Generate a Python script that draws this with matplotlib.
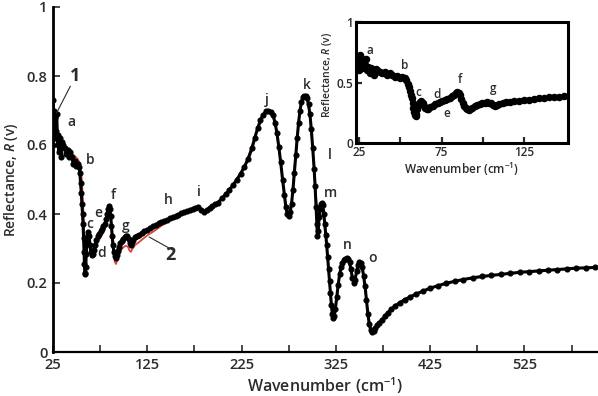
import matplotlib
matplotlib.use("Agg")
import matplotlib.pyplot as plt
from matplotlib.ticker import FixedLocator

plt.rcParams["font.family"] = ["Open Sans", "DejaVu Sans"]
plt.rcParams["font.weight"] = "semibold"
plt.rcParams["mathtext.fontset"] = "custom"
plt.rcParams["mathtext.rm"] = "Open Sans:semibold"
plt.rcParams["mathtext.it"] = "Open Sans:italic:semibold"

TXT = "#2b2b2b"
RED = "#d9443b"
W = "semibold"

# measured reflectance (black dots)
wn = [25.0, 25.3, 25.8, 26.2, 26.8, 27.5, 28.2, 29.0, 29.8, 30.5, 31.2, 32.0,
      33.0, 34.0, 35.0, 36.0, 37.5, 39.0, 40.5, 42.0, 43.5, 45.0, 46.5, 48.0,
      49.5, 51.0, 52.5, 53.5, 54.3, 55.0, 55.7, 56.3, 56.9, 57.4, 57.9, 58.3,
      58.7, 59.2, 59.7, 60.3, 61.0, 61.8, 62.6, 63.4, 64.2, 65.0, 66.0, 67.0,
      68.0, 69.5, 71.0, 72.5, 74.0, 75.5, 77.0, 78.5, 80.0, 81.5, 82.5, 83.5,
      84.4, 85.3, 86.2, 87.0, 87.8, 88.6, 89.5, 90.5, 91.5, 92.5, 93.5, 95.0,
      96.5, 98.0, 99.5, 101.0, 102.5, 104.0, 105.2, 106.3, 107.3, 108.5, 110.0,
      112.0, 114.0, 116.5, 119.0, 122.0, 125.0, 128.0, 131.0, 134.0, 137.0,
      140.0, 143.0, 146.0, 149.0, 152.0, 155.0, 158.0, 161.0, 164.0, 167.0,
      170.0, 173.0, 176.0, 179.0, 182.0, 185.0, 188.0, 191.0, 194.0, 197.0,
      200.0, 204.0, 208.0, 212.0, 216.0, 220.0, 224.0, 228.0, 232.0, 236.0,
      239.0, 242.0, 245.0, 248.0, 251.0, 253.5, 256.0, 258.5, 260.5, 262.5,
      264.5, 266.5, 268.5, 270.5, 272.0, 273.5, 275.0, 276.5, 278.0, 279.5,
      281.0, 282.5, 284.0, 285.5, 287.0, 288.5, 290.0, 291.5, 293.0, 294.5,
      296.0, 297.5, 299.0, 300.5, 302.0, 303.0, 304.0, 304.8, 305.5, 306.3,
      307.2, 308.2, 309.3, 310.3, 311.3, 312.3, 313.3, 314.3, 315.3, 316.3,
      317.3, 318.3, 319.3, 320.3, 321.3, 322.3, 323.3, 324.5, 326.0, 327.5,
      329.0, 330.5, 332.0, 333.5, 335.0, 336.5, 338.0, 339.5, 341.0, 342.5,
      344.0, 345.5, 347.0, 348.5, 350.0, 351.5, 353.0, 354.5, 356.0, 357.5,
      359.0, 360.5, 362.0, 363.5, 365.0, 367.0, 369.0, 371.0, 374.0, 377.0,
      380.0, 384.0, 388.0, 393.0, 398.0, 404.0, 410.0, 417.0, 425.0, 433.0,
      442.0, 451.0, 460.0, 470.0, 480.0, 490.0, 500.0, 510.0, 520.0, 530.0,
      540.0, 550.0, 560.0, 570.0, 580.0, 590.0, 600.0]
refl = [0.60, 0.73, 0.66, 0.70, 0.62, 0.68, 0.64, 0.69, 0.60, 0.63, 0.58, 0.62,
        0.60, 0.565, 0.61, 0.60, 0.59, 0.575, 0.585, 0.565, 0.58, 0.565, 0.545, 0.555,
        0.54, 0.545, 0.535, 0.52, 0.49, 0.46, 0.43, 0.40, 0.37, 0.33, 0.29, 0.255,
        0.23, 0.225, 0.245, 0.285, 0.32, 0.34, 0.348, 0.335, 0.31, 0.29, 0.282, 0.285,
        0.295, 0.31, 0.325, 0.335, 0.343, 0.35, 0.357, 0.365, 0.372, 0.385, 0.40, 0.415,
        0.422, 0.415, 0.395, 0.365, 0.335, 0.31, 0.29, 0.278, 0.272, 0.28, 0.293, 0.305,
        0.315, 0.322, 0.328, 0.333, 0.336, 0.335, 0.328, 0.315, 0.31, 0.318, 0.326,
        0.332, 0.336, 0.34, 0.345, 0.35, 0.355, 0.36, 0.365, 0.369, 0.373,
        0.377, 0.38, 0.383, 0.387, 0.39, 0.394, 0.398, 0.402, 0.405, 0.408,
        0.411, 0.414, 0.418, 0.421, 0.412, 0.407, 0.412, 0.418, 0.423, 0.428,
        0.433, 0.445, 0.457, 0.47, 0.484, 0.50, 0.517, 0.537, 0.56, 0.59,
        0.62, 0.648, 0.672, 0.688, 0.698, 0.70, 0.697, 0.686, 0.665, 0.635,
        0.595, 0.55, 0.50, 0.455, 0.42, 0.40, 0.395, 0.405, 0.43, 0.47,
        0.52, 0.57, 0.62, 0.665, 0.70, 0.725, 0.738, 0.743, 0.742, 0.735,
        0.718, 0.69, 0.645, 0.59, 0.53, 0.48, 0.42, 0.37, 0.335, 0.35,
        0.39, 0.415, 0.43, 0.432, 0.425, 0.40, 0.37, 0.34, 0.31, 0.275,
        0.24, 0.205, 0.17, 0.135, 0.11, 0.10, 0.105, 0.125, 0.16, 0.195,
        0.225, 0.245, 0.258, 0.266, 0.27, 0.272, 0.27, 0.26, 0.24, 0.215,
        0.20, 0.21, 0.235, 0.252, 0.26, 0.258, 0.245, 0.22, 0.19, 0.15,
        0.11, 0.08, 0.063, 0.058, 0.062, 0.07, 0.078, 0.085, 0.094, 0.104,
        0.114, 0.124, 0.134, 0.143, 0.152, 0.16, 0.168, 0.176, 0.185, 0.192,
        0.199, 0.205, 0.21, 0.215, 0.219, 0.222, 0.225, 0.228, 0.231, 0.233,
        0.235, 0.237, 0.239, 0.241, 0.243, 0.244, 0.245]

# fitted model (red line)
fit_wn = [25, 27, 29, 32, 36, 40, 44, 48, 51, 53, 54.5, 55.5, 56.5, 57.5, 58.3,
          59.0, 59.8, 60.8, 62.0, 63.2, 64.5, 65.8, 67, 69, 72, 75, 78, 81, 83,
          84.6, 86, 87.5, 89, 90.5, 91.8, 93.5, 96, 99, 102, 104.5, 106, 107.5,
          109, 112, 116, 120, 126, 132, 140, 150, 160, 170, 180, 185, 190, 200,
          210, 220, 230, 240, 250, 253.5, 258, 262, 266, 270, 273, 275, 278, 282,
          286, 290, 292, 295, 298, 301, 304, 306, 308, 310, 312, 315, 318, 321,
          322.5, 325, 329, 334, 337, 341, 344, 346, 349, 351, 354, 357, 360, 363,
          366, 372, 380, 393, 410, 433, 460, 500, 550, 600]
fit_r = [0.62, 0.64, 0.63, 0.605, 0.595, 0.585, 0.578, 0.568, 0.56, 0.55, 0.53,
         0.50, 0.45, 0.39, 0.33, 0.295, 0.29, 0.31, 0.335, 0.34, 0.315, 0.29,
         0.285, 0.295, 0.315, 0.33, 0.345, 0.365, 0.395, 0.425, 0.40, 0.35, 0.295,
         0.262, 0.255, 0.27, 0.29, 0.302, 0.308, 0.305, 0.295, 0.29, 0.298, 0.31,
         0.318, 0.327, 0.34, 0.35, 0.366, 0.382, 0.398, 0.408, 0.413, 0.403, 0.41,
         0.432, 0.463, 0.50, 0.548, 0.632, 0.695, 0.70, 0.688, 0.64, 0.56, 0.465,
         0.405, 0.395, 0.43, 0.56, 0.685, 0.738, 0.743, 0.73, 0.67, 0.57, 0.45,
         0.39, 0.41, 0.425, 0.40, 0.32, 0.21, 0.115, 0.10, 0.135, 0.225, 0.267,
         0.271, 0.24, 0.205, 0.215, 0.255, 0.26, 0.23, 0.16, 0.09, 0.06, 0.065,
         0.088, 0.114, 0.143, 0.168, 0.192, 0.21, 0.225, 0.237, 0.245]

peak_labels = ["a", "b", "c", "d", "e", "f", "g", "h", "i", "j", "k", "l", "m", "n", "o"]
peak_x = [44.8, 64, 64, 76.8, 72.5, 88.4, 102.3, 147, 180, 252, 294, 319, 319, 337, 364]
peak_y = [0.667, 0.556, 0.371, 0.287, 0.403, 0.455, 0.365, 0.44, 0.465, 0.730,
          0.774, 0.571, 0.461, 0.310, 0.272]

inset_labels = ["a", "b", "c", "d", "e", "f", "g"]
inset_x = [31.5, 52.7, 60.8, 72.3, 78.0, 86.1, 106.0]
inset_y = [0.767, 0.638, 0.42, 0.405, 0.247, 0.526, 0.452]

fig = plt.figure(figsize=(5.98, 3.96), dpi=100)
ax = fig.add_axes([53 / 598, 44 / 396, 544 / 598, 345 / 396])

ax.plot(fit_wn, fit_r, color=RED, lw=1.3, zorder=2)
ax.plot(wn, refl, color="black", lw=2.2, marker="o", ms=3.4, zorder=3)

ax.set_xlim(25, 602)
ax.set_ylim(0, 1)
ax.spines["top"].set_visible(False)
ax.spines["right"].set_visible(False)
ax.spines["left"].set_linewidth(2.0)
ax.spines["bottom"].set_linewidth(1.6)
ax.xaxis.set_major_locator(FixedLocator([25, 125, 225, 325, 425, 525]))
ax.xaxis.set_minor_locator(FixedLocator([75, 175, 275, 375, 475, 575]))
ax.yaxis.set_major_locator(FixedLocator([0, 0.2, 0.4, 0.6, 0.8, 1.0]))
ax.set_yticklabels(["0", "0.2", "0.4", "0.6", "0.8", "1"])
ax.tick_params(which="both", direction="in", length=5, width=1.2, colors=TXT,
               labelsize=10.5, pad=4)
for t in ax.get_xticklabels() + ax.get_yticklabels():
    t.set_fontweight(W)
ax.set_xlabel("Wavenumber (cm$^{-1}$)", fontsize=11.5, color=TXT, fontweight=W)
ax.set_ylabel("Reflectance, $R$ (v)", fontsize=10, color=TXT, fontweight=W)
ax.xaxis.set_label_coords(0.5, -0.068)
ax.yaxis.set_label_coords(-0.06, 0.5)

for lbl, x, y in zip(peak_labels, peak_x, peak_y):
    ax.text(x, y, lbl, ha="center", va="center", fontsize=10, color=TXT,
            fontweight=W, zorder=5)

# callouts 1 and 2
ax.plot([43.3, 28.8], [0.77, 0.693], color=TXT, lw=0.8, zorder=4)
ax.text(48, 0.80, "1", ha="center", va="center", fontsize=13, fontweight="bold", color=TXT)
ax.plot([127.2, 151.6], [0.333, 0.296], color=TXT, lw=0.8, zorder=4)
ax.text(149.5, 0.28, "2", ha="center", va="center", fontsize=13, fontweight="bold", color=TXT)

# inset: low-wavenumber detail
axi = fig.add_axes([356 / 598, (396 - 143.3) / 396, 211.7 / 598, 121.6 / 396])
axi.plot(fit_wn, fit_r, color=RED, lw=1.3, zorder=2)
axi.plot(wn, refl, color="black", lw=2.8, marker="o", ms=4.4, zorder=3)
axi.set_xlim(23, 151.5)
axi.set_ylim(0, 1)
for s in axi.spines.values():
    s.set_linewidth(2.2)
axi.xaxis.set_major_locator(FixedLocator([25, 75, 125]))
axi.xaxis.set_minor_locator(FixedLocator([50, 100]))
axi.yaxis.set_major_locator(FixedLocator([0, 0.5, 1.0]))
axi.set_yticklabels(["0", "0.5", "1"])
axi.tick_params(which="both", direction="in", length=4, width=1.6, colors=TXT,
                labelsize=8.5, pad=2)
for t in axi.get_xticklabels() + axi.get_yticklabels():
    t.set_fontweight(W)
axi.set_xlabel("Wavenumber (cm$^{-1}$)", fontsize=8.5, color=TXT, fontweight=W)
axi.set_ylabel("Reflectance, $R$ (v)", fontsize=7.5, color=TXT, fontweight=W)
axi.xaxis.set_label_coords(0.5, -0.145)
axi.yaxis.set_label_coords(-0.105, 0.56)
for lbl, x, y in zip(inset_labels, inset_x, inset_y):
    axi.text(x, y, lbl, ha="center", va="center", fontsize=8.5, color=TXT,
             fontweight=W, zorder=5)

fig.savefig("out.png", dpi=100, facecolor="white")
